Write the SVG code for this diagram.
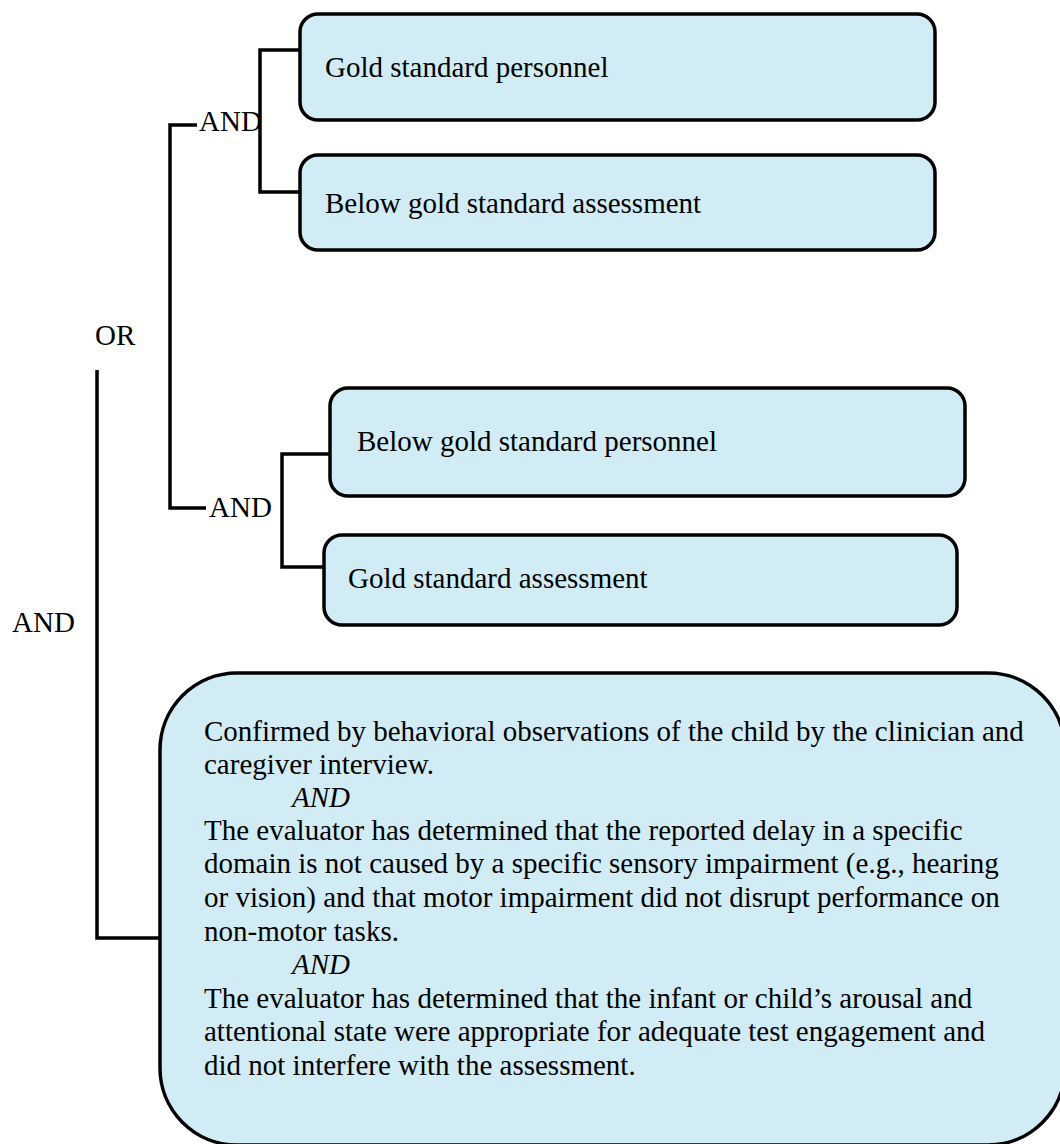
<svg xmlns="http://www.w3.org/2000/svg" width="1060" height="1144" viewBox="0 0 1060 1144">
<style>
.box{fill:#d1ecf4;stroke:#000;stroke-width:3.5}
.ln{fill:none;stroke:#000;stroke-width:3.5}
text{font-family:"Liberation Serif","Times New Roman",serif;font-size:29px;fill:#000}
.it{font-style:italic}
</style>
<rect width="1060" height="1144" fill="#fff"/>
<g id="connectors">
<path class="ln" d="M300,50 H260 V192 H300"/>
<path class="ln" d="M197,125 H170 V508 H206"/>
<path class="ln" d="M330,454 H282 V567 H324"/>
<path class="ln" d="M97,370 V938 H160"/>
</g>
<g id="labels">
<text x="199" y="131">AND</text>
<text x="95" y="345">OR</text>
<text x="209" y="517">AND</text>
<text x="12" y="632">AND</text>
</g>
<g id="n1">
<rect class="box" x="300" y="14" width="635" height="106" rx="18"/>
<text x="325" y="77">Gold standard personnel</text>
</g>
<g id="n2">
<rect class="box" x="300" y="155" width="635" height="95" rx="18"/>
<text x="325" y="213">Below gold standard assessment</text>
</g>
<g id="n3">
<rect class="box" x="330" y="388" width="635" height="108" rx="18"/>
<text x="357" y="451">Below gold standard personnel</text>
</g>
<g id="n4">
<rect class="box" x="324" y="535" width="633" height="90" rx="18"/>
<text x="348" y="588">Gold standard assessment</text>
</g>
<g id="n5">
<rect class="box" x="160" y="673" width="905" height="472" rx="77"/>
<text x="204" y="741">Confirmed by behavioral observations of the child by the clinician and</text>
<text x="204" y="774">caregiver interview.</text>
<text class="it" x="292" y="807">AND</text>
<text x="204" y="840">The evaluator has determined that the reported delay in a specific</text>
<text x="204" y="873">domain is not caused by a specific sensory impairment (e.g., hearing</text>
<text x="204" y="907">or vision) and that motor impairment did not disrupt performance on</text>
<text x="204" y="941">non-motor tasks.</text>
<text class="it" x="292" y="974">AND</text>
<text x="204" y="1008">The evaluator has determined that the infant or child’s arousal and</text>
<text x="204" y="1041">attentional state were appropriate for adequate test engagement and</text>
<text x="204" y="1075">did not interfere with the assessment.</text>
</g>
</svg>
